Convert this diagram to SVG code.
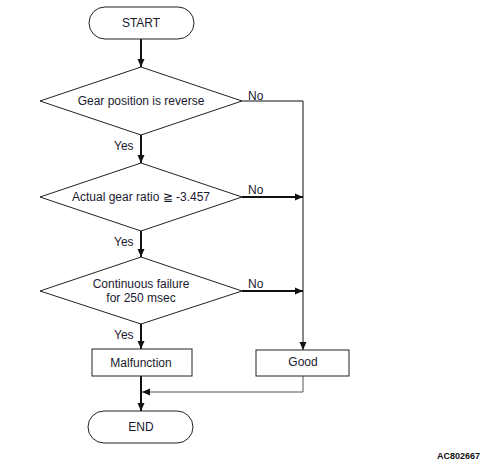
<svg xmlns="http://www.w3.org/2000/svg" width="491" height="469" viewBox="0 0 491 469">
<style>
.s{fill:#fff;stroke:#222;stroke-width:1}
.t{font-family:"Liberation Sans",Arial,sans-serif;font-size:12px;fill:#1a1a2e;text-anchor:middle}
.l{font-family:"Liberation Sans",Arial,sans-serif;font-size:12px;fill:#1a1a2e}
.k{fill:none;stroke:#111;stroke-width:2}
.n{fill:none;stroke:#111;stroke-width:1}
</style>
<defs>
<marker id="a" markerWidth="8" markerHeight="8" refX="8" refY="4" orient="auto" markerUnits="userSpaceOnUse">
<path d="M0,0.5 L8,4 L0,7.5 Z" fill="#111"/>
</marker>
</defs>
<rect width="491" height="469" fill="#fff"/>
<g id="connectors">
<line class="k" x1="141" y1="39" x2="141" y2="67" marker-end="url(#a)"/>
<line class="k" x1="141" y1="135" x2="141" y2="163" marker-end="url(#a)"/>
<line class="k" x1="141" y1="231" x2="141" y2="257" marker-end="url(#a)"/>
<line class="k" x1="141" y1="324" x2="141" y2="349" marker-end="url(#a)"/>
<line class="k" x1="141" y1="376" x2="141" y2="411" marker-end="url(#a)"/>
<polyline class="n" points="242,101 303,101 303,350" marker-end="url(#a)"/>
<line class="k" x1="242" y1="197" x2="303" y2="197" marker-end="url(#a)"/>
<line class="k" x1="242" y1="291" x2="303" y2="291" marker-end="url(#a)"/>
<polyline fill="none" stroke="#555" stroke-width="1" points="303,376 303,392 142,392" marker-end="url(#a)"/>
<text class="l" x="248" y="100">No</text>
<text class="l" x="248" y="194">No</text>
<text class="l" x="248" y="288">No</text>
<text class="l" x="114" y="150">Yes</text>
<text class="l" x="114" y="246">Yes</text>
<text class="l" x="114" y="339">Yes</text>
</g>
<g id="start">
<rect class="s" x="89" y="7" width="105" height="32" rx="16"/>
<text class="t" x="141" y="27">START</text>
</g>
<g id="d1">
<polygon class="s" points="141,67 242,101 141,135 40,101"/>
<text class="t" x="141" y="105">Gear position is reverse</text>
</g>
<g id="d2">
<polygon class="s" points="141,163 242,197 141,231 40,197"/>
<text class="t" x="141" y="201">Actual gear ratio ≧ -3.457</text>
</g>
<g id="d3">
<polygon class="s" points="141,257 242,291 141,324 40,291"/>
<text class="t" x="141" y="288">Continuous failure</text>
<text class="t" x="141" y="302">for 250 msec</text>
</g>
<g id="malfunction">
<rect class="s" x="92" y="349" width="100" height="27"/>
<text class="t" x="141" y="367">Malfunction</text>
</g>
<g id="good">
<rect class="s" x="256" y="350" width="93" height="26"/>
<text class="t" x="303" y="366">Good</text>
</g>
<g id="end">
<rect class="s" x="88" y="411" width="105" height="32" rx="16"/>
<text class="t" x="141" y="431">END</text>
</g>
<text x="480" y="459" font-family="Liberation Sans,Arial,sans-serif" font-size="9" font-weight="bold" text-anchor="end" fill="#111">AC802667</text>
</svg>
